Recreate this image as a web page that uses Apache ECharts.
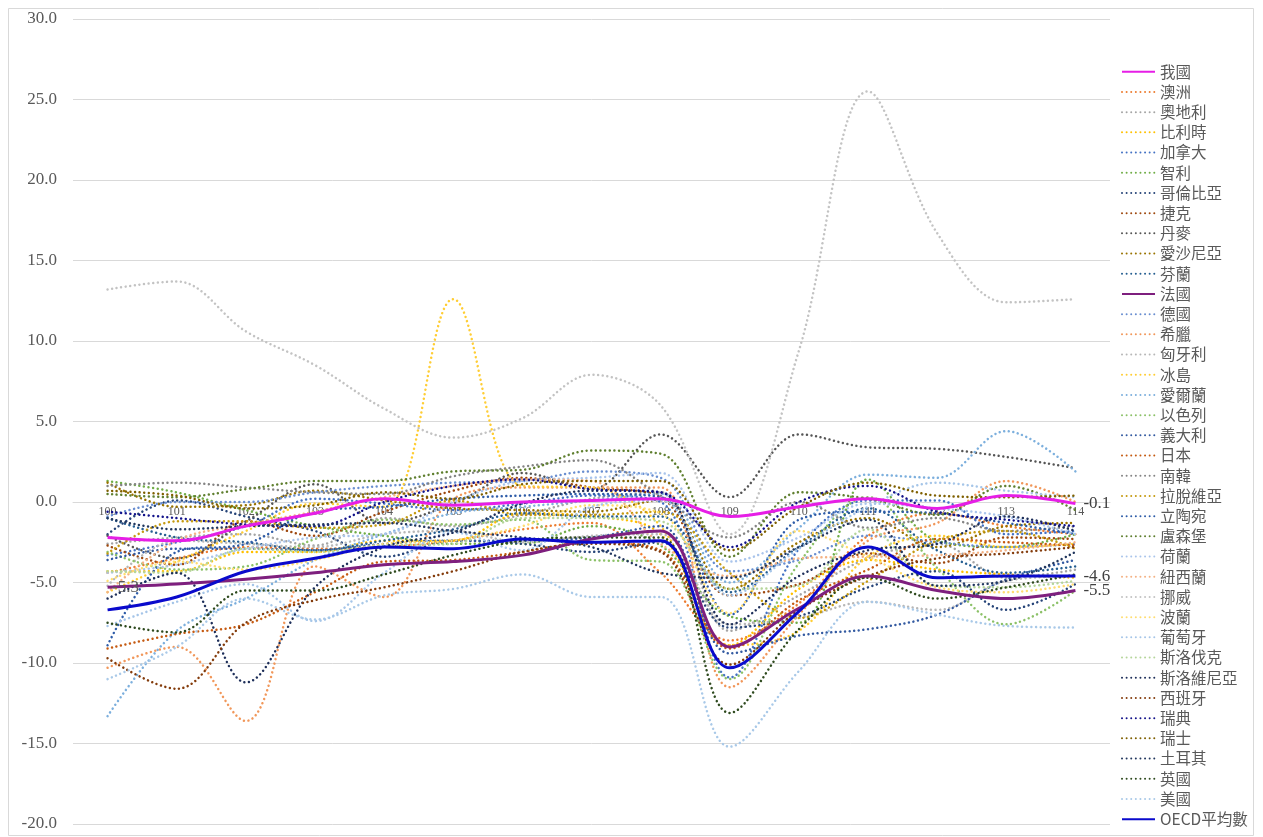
<!DOCTYPE html>
<html>
<head>
<meta charset="utf-8">
<script src="https://cdn.jsdelivr.net/npm/echarts@6/dist/echarts.min.js"></script>
<style>
html,body{margin:0;padding:0;background:#fff;}
#chart{width:1263px;height:837px;}
</style>
</head>
<body>
<div id="chart"></div>
<script>
const categories = ['100','101','102','103','104','105','106','107','108','109','110','111','112','113','114'];
const yTicks = [-20, -15, -10, -5, 0, 5, 10, 15, 20, 25, 30];

const seriesNames = ['我國','澳洲','奧地利','比利時','加拿大','智利','哥倫比亞','捷克','丹麥','愛沙尼亞','芬蘭','法國','德國','希臘','匈牙利','冰島','愛爾蘭','以色列','義大利','日本','南韓','拉脫維亞','立陶宛','盧森堡','荷蘭','紐西蘭','挪威','波蘭','葡萄牙','斯洛伐克','斯洛維尼亞','西班牙','瑞典','瑞士','土耳其','英國','美國','OECD平均數'];

const taiwan      = [-2.2,-2.4,-1.5,-0.7,0.2,-0.2,0.0,0.1,0.2,-0.9,-0.3,0.2,-0.4,0.4,-0.1];
const australia   = [-4.4,-3.5,-2.8,-2.9,-2.8,-2.4,-1.7,-1.3,-4.4,-8.6,-6.3,-2.1,-0.7,-1.5,-2.0];
const austria     = [-2.6,-2.2,-2.0,-2.7,-1.0,-1.5,-0.8,0.2,0.6,-8.0,-5.8,-3.5,-2.6,-4.7,-4.2];
const belgium     = [-4.3,-4.3,-3.1,-3.1,-2.4,-2.4,-0.7,-0.9,-2.0,-8.9,-5.4,-3.6,-4.2,-4.5,-4.7];
const canada      = [-3.3,-2.5,-1.5,0.2,-0.1,-0.5,-0.1,0.4,0.0,-10.9,-2.9,0.1,0.1,-2.0,-1.8];
const chile       = [1.3,0.6,-0.5,-1.5,-2.1,-2.6,-2.6,-1.5,-2.7,-7.1,-7.5,1.4,-2.4,-2.8,-2.0];
const colombia    = [-2.0,0.1,-0.9,-1.8,-3.4,-2.4,-2.6,-3.1,-2.5,-7.8,-7.1,-5.3,-4.3,-6.7,-5.1];
const czechia     = [-2.7,-3.9,-1.2,-2.1,-0.6,0.7,1.5,0.9,0.3,-5.8,-5.1,-3.2,-3.8,-2.2,-2.3];
const denmark     = [-2.1,-3.5,-1.2,1.1,-1.3,-0.1,1.8,0.8,4.2,0.3,4.2,3.4,3.3,2.8,2.1];
const estonia     = [1.2,-0.3,-0.2,0.7,0.1,-0.4,-0.5,-0.6,0.1,-5.4,-2.5,-1.0,-2.8,-1.5,-1.3];
const finland     = [-1.0,-2.2,-2.5,-3.0,-2.4,-1.7,-0.7,-0.9,-0.9,-5.6,-2.8,-0.4,-3.0,-4.4,-4.0];
const france      = [-5.3,-5.1,-4.8,-4.4,-3.9,-3.7,-3.3,-2.3,-1.8,-9.0,-6.6,-4.6,-5.5,-6.0,-5.5];
const germany     = [-0.9,0.0,0.0,0.6,1.0,1.2,1.3,1.9,1.5,-4.3,-3.6,-2.1,-2.5,-2.8,-2.6];
const greece      = [-10.3,-9.0,-13.6,-4.0,-5.9,0.2,0.9,0.9,0.9,-11.5,-7.0,-2.4,-1.3,1.3,0.0];
const hungary     = [-5.2,-2.4,-2.6,-2.8,-2.0,-1.8,-2.5,-2.1,-2.0,-7.6,-7.2,-6.2,-6.7,-4.9,-4.6];
const iceland     = [-5.6,-3.7,-1.8,-0.1,-0.3,12.6,1.0,0.9,-1.5,-8.9,-8.0,-3.4,-2.1,-2.8,-2.6];
const ireland     = [-13.3,-8.0,-6.0,-3.6,-2.0,-0.7,-0.3,0.1,0.5,-5.0,-1.6,1.7,1.5,4.4,1.9];
const israel      = [-3.1,-4.2,-4.0,-2.3,-1.1,-1.4,-1.1,-3.6,-3.7,-11.0,-3.8,0.3,-4.1,-7.6,-5.5];
const italy       = [-3.6,-2.9,-2.9,-3.0,-2.6,-2.4,-2.4,-2.2,-1.5,-9.4,-8.3,-7.9,-7.0,-4.8,-3.6];
const japan       = [-9.1,-8.2,-7.6,-5.6,-3.7,-3.6,-3.1,-2.5,-3.0,-9.1,-6.1,-4.2,-2.3,-2.5,-2.7];
const korea       = [1.0,1.2,0.9,0.6,0.5,1.6,2.2,2.6,0.4,-2.2,0.0,-1.6,-1.0,-1.8,-1.5];
const latvia      = [-3.2,-1.2,-1.2,-1.6,-1.4,0.1,-0.8,-0.8,-0.6,-4.4,-7.2,-4.9,-2.4,-1.8,-2.9];
const lithuania   = [-8.9,-3.1,-2.6,-0.6,-0.3,0.2,0.4,0.5,0.3,-7.0,-1.1,-0.6,-0.7,-1.3,-2.0];
const luxembourg  = [0.5,0.3,0.8,1.3,1.3,1.9,2.0,3.2,3.0,-3.4,0.6,0.2,-0.8,1.0,-0.5];
const netherlands = [-4.4,-3.9,-2.9,-2.2,-2.0,0.0,1.3,1.5,1.8,-3.7,-2.2,-0.1,-0.4,-0.9,-2.0];
const newZealand  = [-5.6,-2.4,-1.4,-0.6,0.3,1.0,1.4,1.3,-2.6,-4.6,-3.5,-3.4,-3.3,-3.0,-2.5];
const norway      = [13.2,13.7,10.6,8.5,5.8,4.0,5.2,7.9,6.0,-2.0,9.4,25.5,16.7,12.4,12.6];
const poland      = [-4.9,-3.7,-4.2,-3.6,-2.6,-2.4,-1.5,-0.2,-0.7,-6.9,-1.8,-3.4,-5.3,-5.6,-5.1];
const portugal    = [-7.7,-6.2,-5.1,-7.4,-4.4,-1.9,-3.0,-0.3,0.1,-5.8,-2.9,-0.3,1.2,0.7,0.3];
const slovakia    = [-4.3,-4.4,-2.9,-3.1,-2.7,-2.6,-1.0,-1.0,-1.2,-5.4,-5.2,-1.7,-5.2,-5.3,-4.9];
const slovenia    = [-6.0,-4.4,-11.2,-5.3,-2.8,-1.9,-0.1,0.7,0.6,-7.6,-4.6,-3.0,-2.6,-0.9,-1.8];
const spain       = [-9.7,-11.6,-7.5,-6.1,-5.3,-4.3,-3.1,-2.6,-3.1,-10.1,-6.7,-4.6,-3.5,-3.2,-2.8];
const sweden      = [-0.6,-1.0,-1.4,-1.5,0.0,1.0,1.4,0.8,0.6,-2.8,0.0,1.0,-0.6,-1.1,-1.5];
const switzerland = [0.7,0.4,-0.4,-0.2,0.6,0.2,1.1,1.3,1.3,-3.0,-0.3,1.2,0.4,0.3,0.4];
const turkiye     = [-1.0,-1.7,-1.5,-1.4,-1.3,-1.8,-2.2,-2.8,-4.4,-4.7,-2.8,-1.1,-5.2,-4.9,-3.1];
const uk          = [-7.5,-8.1,-5.5,-5.5,-4.5,-3.3,-2.4,-2.2,-2.2,-13.1,-7.9,-4.7,-6.0,-5.3,-4.5];
const usa         = [-11.0,-9.0,-6.0,-7.3,-5.8,-5.4,-4.5,-5.9,-5.9,-15.2,-10.5,-6.2,-7.0,-7.7,-7.8];
const oecd        = [-6.7,-5.9,-4.3,-3.5,-2.8,-2.9,-2.3,-2.5,-2.4,-10.3,-6.8,-2.8,-4.7,-4.6,-4.6];

const seriesValues = [taiwan,australia,austria,belgium,canada,chile,colombia,czechia,denmark,estonia,finland,france,germany,greece,hungary,iceland,ireland,israel,italy,japan,korea,latvia,lithuania,luxembourg,netherlands,newZealand,norway,poland,portugal,slovakia,slovenia,spain,sweden,switzerland,turkiye,uk,usa,oecd];

const seriesColors = ['#E61EE6','#ED7D31','#A5A5A5','#FFC000','#4472C4','#70AD47','#264478','#9E480E','#555555','#997300','#255E91','#7E1F7E','#698ED0','#F1975A','#B7B7B7','#FFCD33','#7CAFDD','#8CC168','#335AA1','#C55A11','#848484','#C59A10','#2E5CA8','#5F7F2F','#A9C4EB','#F4B183','#C3C3C3','#FFDD70','#A5C5E8','#B5D59A','#1E2F5A','#843C0C','#12128A','#7F6000','#22375E','#2E4A1E','#A9C9E8','#0A0ACC'];

const solidNames = ['我國','法國','OECD平均數'];
const endLabelNames = ['我國','法國','OECD平均數'];
const firstLabelNames = ['法國'];

const serif = "'Liberation Serif','DejaVu Serif',serif";
const cjk = "'Noto Sans CJK TC','Noto Sans CJK SC',sans-serif";

const gridTop = 19, gridBottom = 13, chartH = 837;
const yMin = yTicks[0], yMax = yTicks[yTicks.length - 1];
const plotH = chartH - gridTop - gridBottom;
const zeroOffset = -plotH * (0 - yMin) / (yMax - yMin);

const chart = echarts.init(document.getElementById('chart'), null, {renderer: 'canvas'});

const labelFmt = p => {
  const v = Array.isArray(p.value) ? p.value[1] : p.value;
  return Number(v).toFixed(1);
};

const series = seriesNames.map((name, i) => {
  const solid = solidNames.includes(name);
  const hasFirst = firstLabelNames.includes(name);
  const vals = seriesValues[i];
  const data = vals.map((v, j) => {
    if (j === 0 && hasFirst) {
      return {value: v, symbol: 'circle', symbolSize: 1,
        itemStyle: {color: 'rgba(0,0,0,0)'},
        label: {show: true, position: 'right', distance: 4, color: '#595959',
          fontFamily: serif, fontSize: 17, formatter: labelFmt}};
    }
    return {value: v, symbol: 'none'};
  });
  const s = {
    name: name,
    type: 'line',
    data: data,
    smooth: 0.36,
    symbol: 'none',
    showSymbol: hasFirst,
    z: solid ? (name === 'OECD平均數' ? 5 : 4) : 2,
    color: seriesColors[i],
    lineStyle: solid
      ? {color: seriesColors[i], width: 3, type: 'solid'}
      : {color: seriesColors[i], width: 2.5, type: [0.01, 4.6], cap: 'round'},
    labelLayout: {hideOverlap: false},
    emphasis: {disabled: true},
    animation: false
  };
  if (endLabelNames.includes(name)) {
    s.endLabel = {show: true, distance: 8, color: '#404040', fontFamily: serif, fontSize: 17, formatter: labelFmt};
  }
  return s;
});

const option = {
  backgroundColor: '#ffffff',
  animation: false,
  graphic: [{
    type: 'rect',
    shape: {x: 8.5, y: 8.5, width: 1245, height: 827},
    style: {fill: 'none', stroke: '#D9D9D9', lineWidth: 1},
    silent: true,
    z: -10
  }],
  grid: {left: 73, right: 153, top: gridTop, bottom: gridBottom, containLabel: false},
  legend: {
    orient: 'vertical',
    left: 1116,
    top: 59,
    height: 774,
    itemWidth: 33,
    itemHeight: 14,
    itemGap: 4.7,
    data: seriesNames,
    itemStyle: {opacity: 0},
    textStyle: {color: '#595959', fontSize: 15.5, fontFamily: cjk},
    selectedMode: false
  },
  xAxis: {
    type: 'category',
    data: categories,
    boundaryGap: true,
    position: 'bottom',
    offset: zeroOffset,
    axisLine: {onZero: false, lineStyle: {color: '#D9D9D9', width: 1}},
    axisTick: {show: false},
    axisLabel: {color: '#595959', fontSize: 12, fontFamily: serif, margin: 4},
    splitLine: {show: false}
  },
  yAxis: {
    type: 'value',
    min: yMin,
    max: yMax,
    interval: 5,
    axisLine: {show: false},
    axisTick: {show: false},
    axisLabel: {color: '#595959', fontSize: 17, fontFamily: serif, margin: 16,
      formatter: v => Number(v).toFixed(1)},
    splitLine: {lineStyle: {color: '#D9D9D9', width: 1}}
  },
  series: series
};

chart.setOption(option);
</script>
</body>
</html>
